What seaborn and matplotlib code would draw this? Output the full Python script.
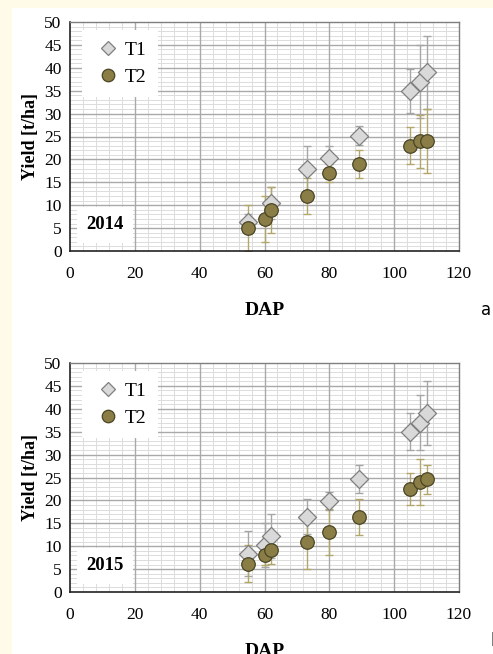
import numpy as np
import pandas as pd
import matplotlib
matplotlib.use("Agg")
import matplotlib.pyplot as plt
import seaborn as sns
from matplotlib.ticker import MultipleLocator
from matplotlib.lines import Line2D
from matplotlib.patches import Rectangle

# 2014 season
dap_t1_2014 = [55, 62, 73, 80, 89, 105, 108, 110]
yield_t1_2014 = [6.3, 10.5, 18.0, 20.2, 25.2, 35.0, 37.0, 39.0]
err_t1_2014 = [1.8, 3.5, 5.0, 2.8, 2.0, 4.8, 8.0, 8.0]
dap_t2_2014 = [55, 60, 62, 73, 80, 89, 105, 108, 110]
yield_t2_2014 = [5.0, 7.0, 9.0, 12.0, 17.0, 19.0, 23.0, 24.0, 24.0]
err_t2_2014 = [5.0, 5.0, 5.0, 4.0, 2.0, 3.0, 4.0, 5.8, 7.0]

# 2015 season
dap_t1_2015 = [55, 60, 62, 73, 80, 89, 105, 108, 110]
yield_t1_2015 = [8.4, 10.2, 12.2, 16.4, 19.8, 24.7, 35.0, 37.0, 39.1]
err_t1_2015 = [5.0, 4.8, 4.8, 3.8, 2.0, 3.0, 4.0, 6.0, 7.0]
dap_t2_2015 = [55, 60, 62, 73, 80, 89, 105, 108, 110]
yield_t2_2015 = [6.2, 8.1, 9.1, 11.0, 13.1, 16.4, 22.5, 24.0, 24.6]
err_t2_2015 = [4.0, 2.1, 3.0, 6.0, 5.0, 4.0, 3.4, 5.0, 3.2]

x_ticks = [0, 20, 40, 60, 80, 100, 120]
y_ticks = [0, 5, 10, 15, 20, 25, 30, 35, 40, 45, 50]

T1_FACE, T1_EDGE, T1_ERR = "#d9d9d9", "#7f7f7f", "#a6a6a6"
T2_FACE, T2_EDGE, T2_ERR = "#8a7d45", "#4a4526", "#b3a66b"

sns.set_style("white")
plt.rcParams["font.family"] = ["Liberation Serif", "DejaVu Serif"]
plt.rcParams["text.color"] = "black"
plt.rcParams["xtick.color"] = "black"
plt.rcParams["ytick.color"] = "black"
plt.rcParams["axes.labelcolor"] = "black"


def make_frame(dap, yld, err, treat):
    return pd.DataFrame({"DAP": dap, "Yield": yld, "Err": err, "Treatment": treat})


def draw_panel(ax, year, t1, t2):
    ax.set_xlim(0, 120)
    ax.set_ylim(0, 50)
    ax.xaxis.set_major_locator(MultipleLocator(20))
    ax.xaxis.set_minor_locator(MultipleLocator(4))
    ax.yaxis.set_major_locator(MultipleLocator(5))
    ax.yaxis.set_minor_locator(MultipleLocator(1))
    # minor grid via matplotlib, major grid drawn over it so it stays solid
    ax.grid(which="minor", color="#dcdcdc", lw=0.7, ls="-")
    ax.grid(which="major", visible=False)
    ax.set_axisbelow(True)
    ax.vlines(x_ticks[1:-1], 0, 50, colors="#a9a9a9", lw=1.0, zorder=1)
    ax.hlines(y_ticks[1:-1], 0, 120, colors="#a9a9a9", lw=1.0, zorder=1)

    # error bars first, then markers on top
    for df, col in ((t1, T1_ERR), (t2, T2_ERR)):
        ax.errorbar(df["DAP"], df["Yield"], yerr=df["Err"], fmt="none",
                    ecolor=col, elinewidth=1.0, capsize=3, capthick=1.0, zorder=2)

    sns.scatterplot(data=t1, x="DAP", y="Yield", marker="D", s=85,
                    color=T1_FACE, edgecolor=T1_EDGE, linewidth=0.9,
                    ax=ax, zorder=3, legend=False)
    sns.scatterplot(data=t2, x="DAP", y="Yield", marker="o", s=95,
                    color=T2_FACE, edgecolor=T2_EDGE, linewidth=0.9,
                    ax=ax, zorder=4, legend=False)

    ax.set_xticks(x_ticks)
    ax.set_yticks(y_ticks)
    ax.tick_params(axis="both", which="major", direction="out", length=4,
                   width=1, color="#333333", labelsize=12.5, pad=2)
    ax.tick_params(axis="x", pad=7)
    ax.tick_params(which="minor", length=0)
    for side in ("left", "bottom"):
        ax.spines[side].set_color("#222222")
        ax.spines[side].set_linewidth(1.2)
    for side in ("top", "right"):
        ax.spines[side].set_color("#7f7f7f")
        ax.spines[side].set_linewidth(1.0)

    ax.set_xlabel("DAP", fontsize=14, fontweight="bold", labelpad=14)
    ax.set_ylabel("Yield [t/ha]", fontsize=13, fontweight="bold", labelpad=4)

    handles = [
        Line2D([], [], ls="none", marker="D", ms=7.5, mfc=T1_FACE, mec=T1_EDGE, mew=0.9, label="T1"),
        Line2D([], [], ls="none", marker="o", ms=9, mfc=T2_FACE, mec=T2_EDGE, mew=0.9, label="T2"),
    ]
    leg = ax.legend(handles=handles, loc="upper left", bbox_to_anchor=(0.031, 0.965),
                    frameon=True, fancybox=False, framealpha=1, edgecolor="white",
                    fontsize=14, handletextpad=0.1, labelspacing=0.45,
                    borderpad=0.6, handlelength=1.5, borderaxespad=0)
    leg.get_frame().set_linewidth(0)
    leg.set_zorder(5)

    ax.text(0.09, 0.115, str(year), transform=ax.transAxes, ha="center", va="center",
            fontsize=13.5, fontweight="bold", zorder=5,
            bbox=dict(boxstyle="square,pad=0.5", fc="white", ec="none"))


fig = plt.figure(figsize=(4.93, 6.54), dpi=100)
fig.patch.set_facecolor("#fffbe8")
fig.patches.append(Rectangle((12 / 493, 0), 1, 1 - 8 / 654, transform=fig.transFigure,
                             fc="white", ec="none", zorder=-10))

ax1 = fig.add_axes([70 / 493, 1 - 251 / 654, 389 / 493, 229 / 654])
ax2 = fig.add_axes([70 / 493, 1 - 592 / 654, 389 / 493, 229 / 654])

draw_panel(ax1, 2014,
           make_frame(dap_t1_2014, yield_t1_2014, err_t1_2014, "T1"),
           make_frame(dap_t2_2014, yield_t2_2014, err_t2_2014, "T2"))
draw_panel(ax2, 2015,
           make_frame(dap_t1_2015, yield_t1_2015, err_t1_2015, "T1"),
           make_frame(dap_t2_2015, yield_t2_2015, err_t2_2015, "T2"))

fig.text(486 / 493, 1 - 310 / 654, "a", family="DejaVu Sans", fontsize=12,
         ha="center", va="center")
fig.text(490 / 493, 1 - 641 / 654, "b", family="DejaVu Sans", fontsize=12,
         ha="left", va="center")

fig.savefig("out.png", dpi=100, facecolor=fig.get_facecolor())
